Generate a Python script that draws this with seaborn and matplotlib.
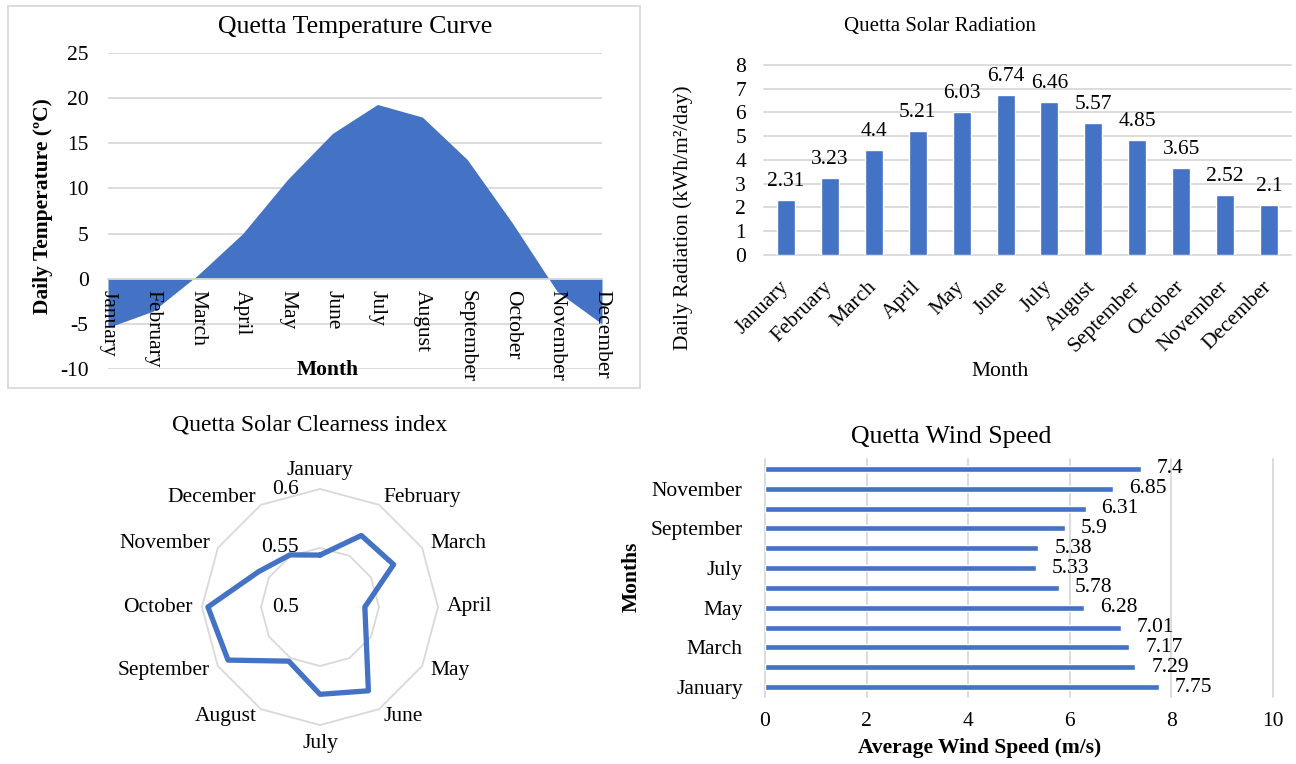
import numpy as np
import pandas as pd
import matplotlib
matplotlib.use("Agg")
import matplotlib.pyplot as plt
from matplotlib.patches import Rectangle
from matplotlib.transforms import offset_copy
import seaborn as sns

# ---- data -------------------------------------------------------------
months = ["January", "February", "March", "April", "May", "June",
          "July", "August", "September", "October", "November", "December"]

temperature = [-5.4, -3.6, 0.4, 5.0, 11.0, 16.1, 19.3, 17.9, 13.2, 6.2, -1.4, -5.0]
temp_ticks = [-10, -5, 0, 5, 10, 15, 20, 25]

radiation = [2.31, 3.23, 4.4, 5.21, 6.03, 6.74, 6.46, 5.57, 4.85, 3.65, 2.52, 2.1]
rad_ticks = [0, 1, 2, 3, 4, 5, 6, 7, 8]

clearness = [0.544, 0.570, 0.572, 0.538, 0.545, 0.582,
             0.574, 0.553, 0.590, 0.595, 0.560, 0.551]
clear_ticks = [0.5, 0.55, 0.6]
clear_tick_labels = ["0.5", "0.55", "0.6"]

wind = [7.75, 7.29, 7.17, 7.01, 6.28, 5.78, 5.33, 5.38, 5.9, 6.31, 6.85, 7.4]
wind_ticks = [0, 2, 4, 6, 8, 10]

BLUE = "#4472C4"
GRID = "#D9D9D9"
FS = 15.5

# ---- style ------------------------------------------------------------
sns.set_theme(style="white")
plt.rcParams["font.family"] = ["Liberation Serif", "DejaVu Serif"]
plt.rcParams["font.size"] = FS
plt.rcParams["axes.unicode_minus"] = False
for key in ("text.color", "axes.labelcolor", "xtick.color", "ytick.color"):
    plt.rcParams[key] = "black"

W, H = 1296, 764
fig = plt.figure(figsize=(W / 100, H / 100), dpi=100)


def box(left, top, right, bottom):
    return [left / W, 1 - bottom / H, (right - left) / W, (bottom - top) / H]


def fx(x):
    return x / W


def fy(y):
    return 1 - y / H


# ---- temperature area chart ------------------------------------------
fig.add_artist(Rectangle((fx(8), fy(388)), (640 - 8) / W, (388 - 6) / H,
                         transform=fig.transFigure, fill=False,
                         edgecolor=GRID, linewidth=1.3))
ax1 = fig.add_axes(box(108, 53, 602, 369))
xpos = np.arange(len(months))
ax1.fill_between(xpos, temperature, 0, color=BLUE, linewidth=0, zorder=1)
for name in ("top", "left", "right"):
    ax1.spines[name].set_visible(False)
ax1.spines["bottom"].set_position(("data", 0))
ax1.spines["bottom"].set_color(GRID)
ax1.spines["bottom"].set_linewidth(1.3)
ax1.spines["bottom"].set_zorder(3)
ax1.set_xlim(0, len(months) - 1)
ax1.set_ylim(-10, 25)
ax1.set_yticks(temp_ticks)
ax1.set_xticks(xpos, months, rotation=270, ha="center", va="top")
ax1.set_axisbelow(True)
ax1.yaxis.grid(True, color=GRID, linewidth=1.3)
ax1.xaxis.grid(False)
ax1.xaxis.set_zorder(3)
ax1.tick_params(axis="x", length=5, width=1.3, color=GRID, pad=3,
                direction="out", labelsize=FS)
ax1.tick_params(axis="y", length=0, pad=14, labelsize=FS)
fig.text(fx(355), fy(27), "Quetta Temperature Curve", fontsize=18.5,
         ha="center", va="center")
fig.text(fx(43), fy(206), "Daily Temperature (ºC)", rotation=90,
         ha="center", va="center", fontweight="bold", fontsize=FS)
fig.text(fx(328), fy(370), "Month", ha="center", va="center",
         fontweight="bold", fontsize=FS)

# ---- solar radiation bar chart ---------------------------------------
ax2 = fig.add_axes(box(764, 65, 1291, 255))
df_rad = pd.DataFrame({"Month": months, "Radiation": radiation})
sns.barplot(data=df_rad, x="Month", y="Radiation", color=BLUE, saturation=1,
            width=0.41, errorbar=None, ax=ax2)
ax2.bar_label(ax2.containers[0], fmt="{:g}", padding=6.5, fontsize=FS)
ax2.set_xlim(-0.5, len(months) - 0.5)
ax2.set_ylim(0, 8)
ax2.set_yticks(rad_ticks)
ax2.set_axisbelow(True)
ax2.yaxis.grid(True, color=GRID, linewidth=1.3)
for line in ax2.get_ygridlines():
    line.set_clip_on(False)
for sp in ax2.spines.values():
    sp.set_visible(False)
ax2.set_xticks(range(len(months)), months, rotation=45, ha="right",
               va="center", rotation_mode="anchor")
ax2.tick_params(axis="x", length=0, pad=21, labelsize=FS)
ax2.tick_params(axis="y", length=0, pad=13, labelsize=FS)
ax2.set_xlabel("")
ax2.set_ylabel("")
fig.text(fx(940), fy(27), "Quetta Solar Radiation", fontsize=15,
         ha="center", va="center")
fig.text(fx(683), fy(218), "Daily Radiation (kWh/m²/day)", rotation=90,
         ha="center", va="center", fontsize=FS)
fig.text(fx(1000), fy(372), "Month", ha="center", va="center", fontsize=FS)

# ---- clearness index radar chart --------------------------------------
ax4 = fig.add_axes(box(202, 489, 438, 725), projection="polar")
theta = np.linspace(0, 2 * np.pi, len(months), endpoint=False)
theta_closed = np.append(theta, 2 * np.pi)
ax4.set_theta_zero_location("N")
ax4.set_theta_direction(-1)
ax4.set_ylim(clear_ticks[0], clear_ticks[-1])
for level in clear_ticks[1:]:
    ax4.plot(theta_closed, [level] * len(theta_closed), color=GRID,
             linewidth=1.3, clip_on=False, zorder=1)
sns.lineplot(x=theta_closed, y=np.append(clearness, clearness[0]),
             sort=False, estimator=None, color=BLUE, linewidth=3.8,
             ax=ax4, zorder=3)
ax4.lines[-1].set_clip_on(False)
ax4.grid(False)
ax4.set_xticks([])
ax4.set_yticks([])
ax4.spines["polar"].set_visible(False)
ax4.patch.set_alpha(0)
ax4.set_xlabel("")
ax4.set_ylabel("")
for level, lab in zip(clear_ticks, clear_tick_labels):
    ax4.text(0, level, lab, fontsize=FS, ha="right", va="center",
             transform=offset_copy(ax4.transData, fig=fig, x=-21, y=0,
                                   units="dots"))
for t, m in zip(theta, months):
    s, c = np.sin(t), np.cos(t)
    if abs(s) < 0.1:
        ha = "center"
        va = "bottom" if c > 0 else "top"
    else:
        ha = "left" if s > 0 else "right"
        va = "center"
    ax4.text(t, clear_ticks[-1], m, fontsize=FS, ha=ha, va=va, clip_on=False,
             transform=offset_copy(ax4.transData, fig=fig, x=9 * s, y=9 * c,
                                   units="dots"))
fig.text(fx(310), fy(425), "Quetta Solar Clearness index", fontsize=17,
         ha="center", va="center")

# ---- wind speed horizontal bar chart ----------------------------------
ax3 = fig.add_axes(box(765, 459, 1273, 697))
order = months[::-1]
df_wind = pd.DataFrame({"Month": months, "Speed": wind})
sns.barplot(data=df_wind, x="Speed", y="Month", order=order, orient="h",
            color=BLUE, saturation=1, width=0.3, errorbar=None, ax=ax3)
labels3 = ax3.bar_label(ax3.containers[0], fmt="{:g}", padding=11.5,
                        fontsize=FS)
for txt in labels3:
    txt.set_y(txt.get_position()[1])
    txt.set_transform(offset_copy(txt.get_transform(), fig=fig, x=0, y=-2,
                                  units="dots"))
ax3.set_xlim(0, 10)
ax3.set_ylim(len(months) - 0.5, -0.5)
ax3.set_xticks(wind_ticks)
ax3.set_axisbelow(True)
ax3.xaxis.grid(True, color=GRID, linewidth=1.3)
for line in ax3.get_xgridlines():
    line.set_clip_on(False)
shown = months[::2]
ax3.set_yticks([order.index(m) for m in shown], shown)
for sp in ax3.spines.values():
    sp.set_visible(False)
ax3.tick_params(axis="y", length=0, pad=16, labelsize=FS)
ax3.tick_params(axis="x", length=0, pad=11, labelsize=FS)
ax3.set_xlabel("")
ax3.set_ylabel("")
fig.text(fx(951), fy(437), "Quetta Wind Speed", fontsize=18.5,
         ha="center", va="center")
fig.text(fx(632), fy(577), "Months", rotation=90, ha="center", va="center",
         fontweight="bold", fontsize=FS)
fig.text(fx(980), fy(748), "Average Wind Speed (m/s)", ha="center",
         va="center", fontweight="bold", fontsize=FS)

fig.savefig("out.png", dpi=100)
